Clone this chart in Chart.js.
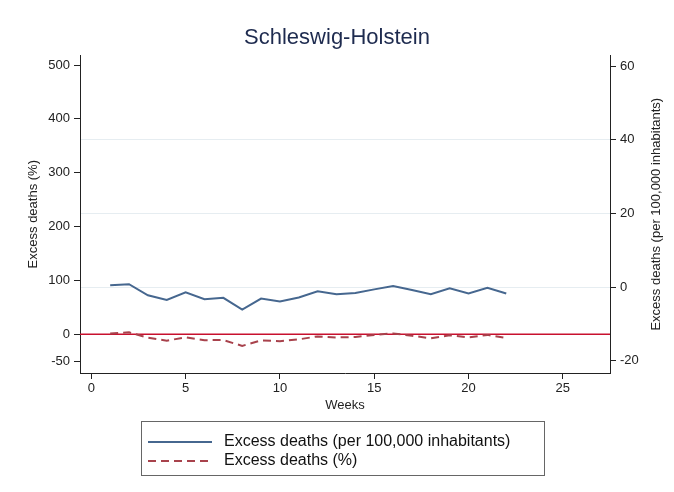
<!DOCTYPE html>
<html>
<head>
<meta charset="utf-8">
<script src="https://cdn.jsdelivr.net/npm/chart.js@4/dist/chart.umd.min.js"></script>
<style>
  html, body { margin: 0; padding: 0; background: #fff; }
  #wrap { position: relative; width: 674px; height: 492px; }
  #legend {
    position: absolute; left: 141px; top: 421px; width: 402px; height: 53px;
    border: 1px solid #666; font-family: "Liberation Sans", Arial, sans-serif;
    font-size: 16px; color: #111;
  }
  .row { position: absolute; left: 0; height: 20px; line-height: 20px; }
  .sample { position: absolute; left: 6px; top: 10px; width: 64px; height: 2px; }
  .lab { position: absolute; left: 82px; top: 0; white-space: nowrap; }
</style>
</head>
<body>
<div id="wrap">
  <canvas id="grafico" width="674" height="492"></canvas>
  <div id="legend"></div>
</div>
<script>
const weeks = [1,2,3,4,5,6,7,8,9,10,11,12,13,14,15,16,17,18,19,20,21,22];
const perInhabitants = [0.5, 0.8, -2.2, -3.5, -1.4, -3.3, -2.9, -6.1, -3.1, -3.9, -2.8, -1.1, -1.9, -1.6, -0.6, 0.3, -0.8, -1.9, -0.3, -1.7, -0.2, -1.7];
const percent = [1.5, 3.5, -6.5, -12, -5.6, -11, -10.8, -21.6, -11.5, -12.8, -9.5, -4, -6, -5, -1.2, 1.5, -2.8, -7.5, -1.8, -6, -1.2, -7];
const xTicks = [0, 5, 10, 15, 20, 25];
const leftTicks = [-50, 0, 100, 200, 300, 400, 500];
const rightTicks = [-20, 0, 20, 40, 60];
const rightTitle = 'Excess deaths (per 100,000 inhabitants)';

const fonte = "'Liberation Sans', Arial, sans-serif";
const azul = '#46678f';
const vermelho = '#a8424c';
const tracejado = [8, 5];

const zeroLine = {
    id: 'zeroLine',
    beforeDatasetsDraw(chart) {
        const ctx = chart.ctx;
        const y = chart.scales.y.getPixelForValue(0);
        ctx.save();
        ctx.strokeStyle = '#c8102e';
        ctx.lineWidth = 1.5;
        ctx.beginPath();
        ctx.moveTo(chart.chartArea.left, y);
        ctx.lineTo(chart.chartArea.right, y);
        ctx.stroke();
        ctx.restore();
    },
    // right title reads bottom-to-top like the left one
    afterDraw(chart) {
        const ctx = chart.ctx;
        const a = chart.chartArea;
        ctx.save();
        ctx.translate(656, (a.top + a.bottom) / 2);
        ctx.rotate(-Math.PI / 2);
        ctx.fillStyle = '#222';
        ctx.font = "13px " + fonte;
        ctx.textAlign = 'center';
        ctx.textBaseline = 'middle';
        ctx.fillText(rightTitle, 0, 0);
        ctx.restore();
    }
};

const chart = new Chart(document.getElementById('grafico'), {
    type: 'line',
    data: {
        datasets: [
            {
                label: 'Excess deaths (per 100,000 inhabitants)',
                data: weeks.map((w, i) => ({ x: w, y: perInhabitants[i] })),
                yAxisID: 'y1',
                borderColor: azul,
                borderWidth: 2,
                pointRadius: 0,
                tension: 0
            },
            {
                label: 'Excess deaths (%)',
                data: weeks.map((w, i) => ({ x: w, y: percent[i] })),
                yAxisID: 'y',
                borderColor: vermelho,
                borderWidth: 2,
                borderDash: tracejado,
                pointRadius: 0,
                tension: 0
            }
        ]
    },
    options: {
        responsive: false,
        animation: false,
        layout: { padding: 0 },
        plugins: {
            legend: { display: false },
            tooltip: { enabled: false },
            title: {
                display: true,
                text: 'Schleswig-Holstein',
                color: '#1e2b4f',
                font: { family: fonte, size: 22, weight: 'normal' },
                padding: { top: 25, bottom: 4 }
            }
        },
        scales: {
            x: {
                type: 'linear',
                min: -0.6,
                max: 27.5,
                afterFit: s => { s.height = 119; },
                afterBuildTicks: s => { s.ticks = xTicks.map(v => ({ value: v })); },
                grid: { drawOnChartArea: false, tickLength: 6, color: '#222' },
                border: { color: '#222', width: 1 },
                ticks: { color: '#222', font: { family: fonte, size: 13 }, padding: 2 },
                title: {
                    display: true, text: 'Weeks', color: '#222',
                    font: { family: fonte, size: 13 }, padding: { top: 0, bottom: 79 }
                }
            },
            y: {
                position: 'left',
                min: -72,
                max: 518,
                afterFit: s => { s.width = 80; },
                afterBuildTicks: s => { s.ticks = leftTicks.map(v => ({ value: v })); },
                grid: { drawOnChartArea: false, tickLength: 6, color: '#222' },
                border: { color: '#222', width: 1 },
                ticks: { color: '#222', font: { family: fonte, size: 13 }, padding: 4 },
                title: {
                    display: true, text: 'Excess deaths (%)', color: '#222',
                    font: { family: fonte, size: 13 }, padding: { top: 26, bottom: 0 }
                }
            },
            y1: {
                position: 'right',
                min: -23.3,
                max: 62.9,
                afterFit: s => { s.width = 64; },
                afterBuildTicks: s => { s.ticks = rightTicks.map(v => ({ value: v })); },
                grid: {
                    drawOnChartArea: true, tickLength: 6,
                    color: c => (c.tick && (c.tick.value === 60 || c.tick.value === -20)) ? 'rgba(0,0,0,0)' : '#e6edf1',
                    tickColor: '#222'
                },
                border: { color: '#222', width: 1 },
                ticks: { color: '#222', font: { family: fonte, size: 13 }, padding: 4 },
                title: { display: false }
            }
        }
    },
    plugins: [zeroLine]
});

// legend
const legend = document.getElementById('legend');
chart.data.datasets.forEach((ds, i) => {
    const row = document.createElement('div');
    row.className = 'row';
    row.style.top = (9 + i * 19) + 'px';
    const sample = document.createElement('div');
    sample.className = 'sample';
    if (ds.borderDash) {
        const d = ds.borderDash;
        sample.style.background = 'repeating-linear-gradient(90deg, ' + ds.borderColor + ' 0 ' + d[0] + 'px, transparent ' + d[0] + 'px ' + (d[0] + d[1]) + 'px)';
    } else {
        sample.style.background = ds.borderColor;
    }
    const lab = document.createElement('div');
    lab.className = 'lab';
    lab.textContent = ds.label;
    row.appendChild(sample);
    row.appendChild(lab);
    legend.appendChild(row);
});
</script>
</body>
</html>
